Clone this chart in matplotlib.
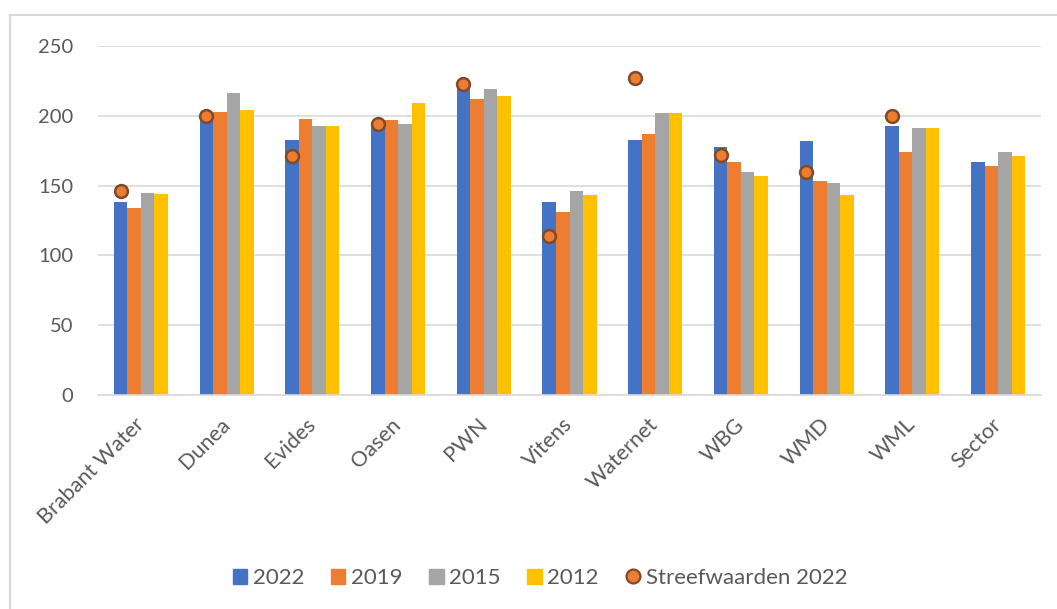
import matplotlib
matplotlib.use("Agg")
import matplotlib.pyplot as plt
import matplotlib.transforms as mtransforms
import numpy as np
from matplotlib.lines import Line2D
from matplotlib.patches import Patch

categories = ["Brabant Water", "Dunea", "Evides", "Oasen", "PWN", "Vitens",
              "Waternet", "WBG", "WMD", "WML", "Sector"]
v2022 = [138, 200, 183, 194, 223, 138, 183, 178, 182, 193, 167]
v2019 = [134, 203, 198, 197, 212, 131, 187, 167, 153, 174, 164]
v2015 = [145, 216, 193, 194, 219, 146, 202, 160, 152, 191, 174]
v2012 = [144, 204, 193, 209, 214, 143, 202, 157, 143, 191, 171]
streef2022 = [146, 200, 171, 194, 223, 114, 227, 172, 160, 200, None]

series_names = ["2022", "2019", "2015", "2012"]
colors = ["#4472C4", "#ED7D31", "#A5A5A5", "#FFC000"]

plt.rcParams['font.family'] = ['Lato', 'DejaVu Sans']
fig = plt.figure(figsize=(10.57, 6.09), dpi=100)
ax = fig.add_axes([98/1057, 1-395/609, (1041-98)/1057, (395-46)/609])

x = np.arange(len(categories))
bw = 0.158
series = [v2022, v2019, v2015, v2012]
for i, (vals, c, n) in enumerate(zip(series, colors, series_names)):
    ax.bar(x + (i - 1.5) * bw, vals, width=bw, color=c, label=n, zorder=2)

sx = [xi - 1.5 * bw for xi, s in zip(x, streef2022) if s is not None]
sy = [s for s in streef2022 if s is not None]
ax.scatter(sx, sy, s=85, color="#ED7D31", edgecolor="#7F4A2A", linewidth=1.8,
           zorder=3, label="Streefwaarden 2022")

ax.set_xlim(-0.5, len(categories) - 0.5)
ax.set_ylim(0, 250)
ax.set_yticks([0, 50, 100, 150, 200, 250])
ax.yaxis.grid(True, color="#D9D9D9", linewidth=1.2, zorder=0)
ax.set_axisbelow(True)
for sp in ["top", "right", "left"]:
    ax.spines[sp].set_visible(False)
ax.spines["bottom"].set_color("#D9D9D9")
ax.spines["bottom"].set_linewidth(1.2)
ax.tick_params(axis="both", length=0, colors="#595959")
ax.tick_params(axis="y", pad=18, labelsize=14.5)
ax.set_xticks(x)
ax.set_xticklabels(categories, rotation=45, ha="right", rotation_mode="anchor")
ax.tick_params(axis="x", pad=14, labelsize=15.5)
offset = mtransforms.ScaledTranslation(-7/100, 0, fig.dpi_scale_trans)
for lbl in ax.get_xticklabels():
    lbl.set_transform(lbl.get_transform() + offset)

handles = [Patch(color=c, label=n) for c, n in zip(colors, series_names)]
handles.append(Line2D([], [], marker="o", linestyle="none", markersize=10,
                      markerfacecolor="#ED7D31", markeredgecolor="#7F4A2A",
                      markeredgewidth=1.6, label="Streefwaarden 2022"))
leg = fig.legend(handles=handles, loc="center", bbox_to_anchor=(540/1057, 1-578/609),
                 ncol=5, frameon=False, fontsize=16, handlelength=0.65, handleheight=0.65,
                 handletextpad=0.25, columnspacing=1.2, labelcolor="#595959")

# outer chart border (left and top visible)
fig.add_artist(Line2D([10/1057, 10/1057], [0, 1-15/609], transform=fig.transFigure,
                      color="#D9D9D9", linewidth=1.5))
fig.add_artist(Line2D([10/1057, 1], [1-15/609, 1-15/609], transform=fig.transFigure,
                      color="#D9D9D9", linewidth=1.5))

fig.savefig("out.png", dpi=100, facecolor="white")
